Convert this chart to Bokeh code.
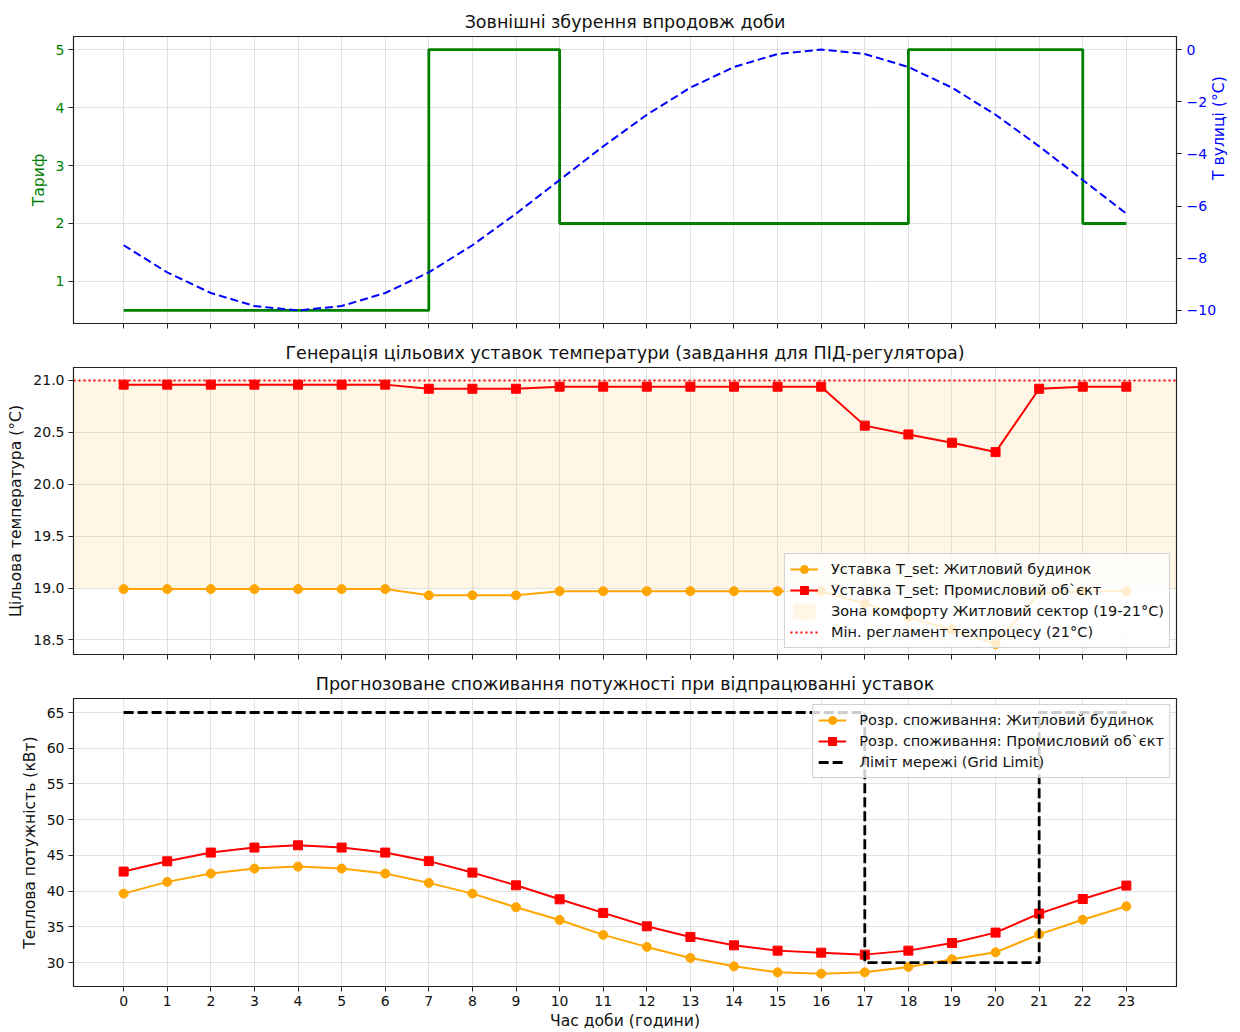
import math
from bokeh.plotting import figure
from bokeh.models import (Range1d, LinearAxis, FixedTicker, Legend, LegendItem,
                          CustomJSTickFormatter, NumeralTickFormatter)
from bokeh.layouts import column
from bokeh.embed import file_html
from bokeh.resources import INLINE

FONT = "DejaVu Sans"

# ---------------- data ----------------
hours = list(range(24))
tariff = [0.5, 0.5, 0.5, 0.5, 0.5, 0.5, 0.5, 5, 5, 5, 2, 2, 2, 2, 2, 2, 2, 2, 5, 5, 5, 5, 2, 2]
t_out = [-7.5, -8.54, -9.33, -9.83, -10.0, -9.83, -9.33, -8.54, -7.5, -6.29, -5.0, -3.71,
         -2.5, -1.46, -0.67, -0.17, 0.0, -0.17, -0.67, -1.46, -2.5, -3.71, -5.0, -6.29]

tset_res = [18.99, 18.99, 18.99, 18.99, 18.99, 18.99, 18.99, 18.93, 18.93, 18.93, 18.97, 18.97,
            18.97, 18.97, 18.97, 18.97, 18.97, 18.85, 18.72, 18.60, 18.46, 18.95, 18.97, 18.97]
tset_ind = [20.96, 20.96, 20.96, 20.96, 20.96, 20.96, 20.96, 20.92, 20.92, 20.92, 20.94, 20.94,
            20.94, 20.94, 20.94, 20.94, 20.94, 20.565, 20.48, 20.40, 20.31, 20.92, 20.94, 20.94]
comfort_low, comfort_high = 19, 21
tech_min = 21

p_res = [39.66, 41.3, 42.46, 43.16, 43.44, 43.16, 42.46, 41.16, 39.66, 37.75, 35.97, 33.88,
         32.2, 30.66, 29.48, 28.64, 28.46, 28.64, 29.4, 30.46, 31.44, 33.96, 36.0, 37.88]
p_ind = [42.74, 44.18, 45.4, 46.1, 46.42, 46.1, 45.4, 44.2, 42.6, 40.82, 38.86, 36.96,
         35.08, 33.6, 32.42, 31.68, 31.4, 31.12, 31.68, 32.75, 34.2, 36.86, 38.9, 40.78]
grid_limit = [65, 65, 65, 65, 65, 65, 65, 65, 65, 65, 65, 65, 65, 65, 65, 65, 65,
              30, 30, 30, 30, 65, 65, 65]

tariff_ticks = [1, 2, 3, 4, 5]
tout_ticks = [0, -2, -4, -6, -8, -10]
tset_ticks = [18.5, 19.0, 19.5, 20.0, 20.5, 21.0]
power_ticks = [30, 35, 40, 45, 50, 55, 60, 65]

titles = ["Зовнішні збурення впродовж доби",
          "Генерація цільових уставок температури (завдання для ПІД-регулятора)",
          "Прогнозоване споживання потужності при відпрацюванні уставок"]

TICK_PX = "14px"
LABEL_PX = "15.6px"


def style_axis(ax):
    ax.axis_line_color = "#222222"
    ax.major_tick_line_color = "#222222"
    ax.major_tick_in = 0
    ax.major_tick_out = 5
    ax.minor_tick_line_color = None
    ax.major_label_text_font = FONT
    ax.major_label_text_font_size = TICK_PX
    ax.major_label_text_color = "#111111"
    ax.axis_label_text_font = FONT
    ax.axis_label_text_font_size = LABEL_PX
    ax.axis_label_text_font_style = "normal"
    ax.axis_label_text_color = "#111111"
    ax.major_label_standoff = 4
    ax.axis_label_standoff = 5


def make_fig(height, top, bottom, yr, title):
    p = figure(width=1240, height=height, x_range=Range1d(-1.15, 24.15), y_range=yr,
               output_backend="svg", toolbar_location=None, title=title,
               min_border_left=73, min_border_right=63, min_border_top=top,
               min_border_bottom=bottom)
    p.title.text_font = FONT
    p.title.text_font_size = "17.5px"
    p.title.text_font_style = "normal"
    p.title.align = "center"
    p.title.text_color = "#111111"
    p.outline_line_color = "#222222"
    p.outline_line_alpha = 1
    p.outline_line_width = 1.2
    p.xaxis.ticker = FixedTicker(ticks=hours)
    for ax in p.axis:
        style_axis(ax)
    p.grid.grid_line_color = "#b0b0b0"
    p.grid.grid_line_alpha = 0.35
    p.grid.grid_line_width = 1
    return p


def hide_x_labels(p):
    p.xaxis.formatter = CustomJSTickFormatter(code="return '';")
    p.xaxis.major_label_standoff = 0


def style_legend(leg, loc):
    leg.location = loc
    leg.label_text_font = FONT
    leg.label_text_font_size = "14.5px"
    leg.label_text_color = "#111111"
    leg.background_fill_alpha = 0.8
    leg.border_line_color = "#cccccc"
    leg.border_line_alpha = 0.9
    leg.glyph_width = 28
    leg.glyph_height = 20
    leg.label_height = 20
    leg.spacing = 1
    leg.padding = 5
    leg.margin = 6
    leg.label_standoff = 13


# ---------------- panel 1 ----------------
p1 = make_fig(333, 36, 10, Range1d(0.275, 5.225), titles[0])
p1.extra_y_ranges = {"temp": Range1d(-10.5, 0.5)}
p1.step(hours, tariff, mode="after", line_color="green", line_width=2.8)
p1.line(hours, t_out, y_range_name="temp", line_color="blue", line_width=2.0, line_dash="8 4")
p1.yaxis.ticker = FixedTicker(ticks=tariff_ticks)
p1.yaxis.axis_label = "Тариф"
p1.yaxis.axis_label_text_color = "green"
p1.yaxis.major_label_text_color = "green"
hide_x_labels(p1)

rax = LinearAxis(y_range_name="temp", axis_label="T вулиці (°C)",
                 ticker=FixedTicker(ticks=tout_ticks),
                 formatter=CustomJSTickFormatter(
                     code="return tick < 0 ? '\\u2212' + Math.abs(tick) : String(tick);"))
style_axis(rax)
rax.major_label_text_color = "blue"
rax.axis_label_text_color = "blue"
rax.major_label_standoff = 5
rax.axis_label_standoff = 0
try:
    rax.axis_label_orientation = math.pi / 2
except Exception:
    pass
p1.add_layout(rax, "right")

# ---------------- panel 2 ----------------
p2 = make_fig(331, 34, 10, Range1d(18.36, 21.125), titles[1])
r_zone = p2.hstrip(y0=[comfort_low], y1=[comfort_high], fill_color="orange", fill_alpha=0.1,
                   line_color=None, level="underlay")
r_res_l = p2.line(hours, tset_res, line_color="orange", line_width=2.0)
r_res_m = p2.scatter(hours, tset_res, marker="circle", size=9, fill_color="orange", line_color="orange")
r_ind_l = p2.line(hours, tset_ind, line_color="red", line_width=2.0)
r_ind_m = p2.scatter(hours, tset_ind, marker="square", size=9, fill_color="red", line_color="red")
r_tech = p2.hspan(y=[tech_min], line_color="red", line_dash="2 3", line_width=2.0)
leg2 = Legend(items=[
    LegendItem(label="Уставка T_set: Житловий будинок", renderers=[r_res_l, r_res_m]),
    LegendItem(label="Уставка T_set: Промисловий об`єкт", renderers=[r_ind_l, r_ind_m]),
    LegendItem(label="Зона комфорту Житловий сектор (19-21°C)", renderers=[r_zone]),
    LegendItem(label="Мін. регламент техпроцесу (21°C)", renderers=[r_tech]),
])
p2.add_layout(leg2, "center")
style_legend(leg2, "bottom_right")
p2.yaxis.ticker = FixedTicker(ticks=tset_ticks)
p2.yaxis.formatter = NumeralTickFormatter(format="0.0")
p2.yaxis.axis_label = "Цільова температура (°C)"
hide_x_labels(p2)

# ---------------- panel 3 ----------------
p3 = make_fig(368, 34, 46, Range1d(26.66, 66.96), titles[2])
r_pr_l = p3.line(hours, p_res, line_color="orange", line_width=2.0)
r_pr_m = p3.scatter(hours, p_res, marker="circle", size=9, fill_color="orange", line_color="orange")
r_pi_l = p3.line(hours, p_ind, line_color="red", line_width=2.0)
r_pi_m = p3.scatter(hours, p_ind, marker="square", size=9, fill_color="red", line_color="red")
r_lim = p3.step(hours, grid_limit, mode="after", line_color="black", line_width=2.8,
                line_dash="10 4")
leg3 = Legend(items=[
    LegendItem(label="Розр. споживання: Житловий будинок", renderers=[r_pr_l, r_pr_m]),
    LegendItem(label="Розр. споживання: Промисловий об`єкт", renderers=[r_pi_l, r_pi_m]),
    LegendItem(label="Ліміт мережі (Grid Limit)", renderers=[r_lim]),
])
p3.add_layout(leg3, "center")
style_legend(leg3, "top_right")
p3.yaxis.ticker = FixedTicker(ticks=power_ticks)
p3.yaxis.axis_label = "Теплова потужність (кВт)"
p3.xaxis.axis_label = "Час доби (години)"
p3.xaxis.axis_label_standoff = 3

layout = column(p1, p2, p3, spacing=0)
open("out.html", "w").write(file_html(layout, INLINE))
